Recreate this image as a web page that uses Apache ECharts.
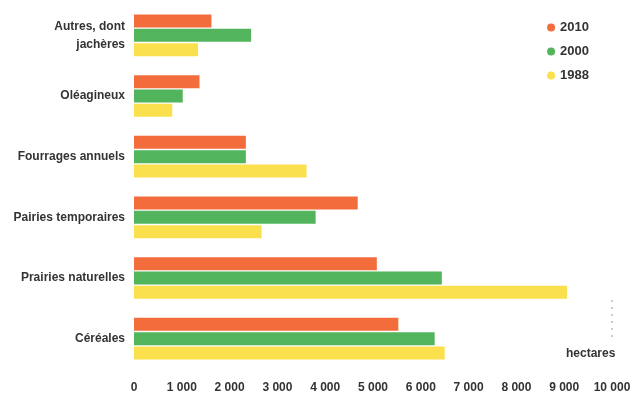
<!DOCTYPE html>
<html>
<head>
<meta charset="utf-8">
<script src="https://cdn.jsdelivr.net/npm/echarts@6/dist/echarts.min.js"></script>
<style>
  html, body { margin: 0; padding: 0; background: #fff; }
  #chart { width: 638px; height: 397px; }
</style>
</head>
<body>
<div id="chart"></div>
<script>
// Surfaces agricoles par type de culture (hectares)
const categories = ['Autres, dont\njachères', 'Oléagineux', 'Fourrages annuels', 'Pairies temporaires', 'Prairies naturelles', 'Céréales'];
const years = ['2010', '2000', '1988'];
const values2010 = [1620, 1370, 2340, 4680, 5080, 5530];
const values2000 = [2450, 1020, 2340, 3800, 6440, 6290];
const values1988 = [1340, 800, 3610, 2670, 9060, 6500];
const xTicks = [0, 1000, 2000, 3000, 4000, 5000, 6000, 7000, 8000, 9000, 10000];

const colors = { '2010': '#f36c3c', '2000': '#52b45c', '1988': '#fbe04d' };
const font = '"Liberation Sans Narrow", "Liberation Sans", Arial, sans-serif';

const chart = echarts.init(document.getElementById('chart'));
const seriesData = { '2010': values2010, '2000': values2000, '1988': values1988 };

chart.setOption({
  animation: false,
  backgroundColor: '#fff',
  textStyle: { fontFamily: font },
  grid: { left: 134, right: 26, top: 5, bottom: 28, containLabel: false },
  legend: {
    orient: 'vertical',
    right: 44,
    top: 16,
    itemGap: 11,
    itemWidth: 8,
    itemHeight: 8,
    icon: 'circle',
    data: years,
    textStyle: { fontFamily: font, fontSize: 13, fontWeight: 'bold', color: '#333' }
  },
  xAxis: {
    type: 'value',
    min: xTicks[0],
    max: xTicks[xTicks.length - 1],
    interval: 1000,
    axisLine: { show: false },
    axisTick: { show: false },
    splitLine: { show: false },
    axisLabel: {
      margin: 13,
      fontFamily: font,
      fontSize: 12,
      fontWeight: 'bold',
      color: '#333',
      formatter: v => v.toString().replace(/\B(?=(\d{3})+(?!\d))/g, ' ')
    }
  },
  yAxis: {
    type: 'category',
    inverse: true,
    data: categories,
    axisLine: { show: false },
    axisTick: { show: false },
    axisLabel: {
      margin: 9,
      fontFamily: font,
      fontSize: 12,
      fontWeight: 'bold',
      color: '#333',
      lineHeight: 18
    }
  },
  graphic: [
    {
      type: 'text',
      left: 566,
      top: 348,
      style: { text: 'hectares', font: 'bold 12px ' + font, fill: '#333' }
    },
    {
      type: 'line',
      shape: { x1: 612, y1: 300, x2: 612, y2: 342 },
      style: { stroke: '#999', lineWidth: 1, lineDash: [2, 5] }
    }
  ],
  series: years.map(y => ({
    name: y,
    type: 'bar',
    data: seriesData[y],
    barWidth: 13,
    barGap: '10%',
    itemStyle: { color: colors[y] }
  }))
});
</script>
</body>
</html>
